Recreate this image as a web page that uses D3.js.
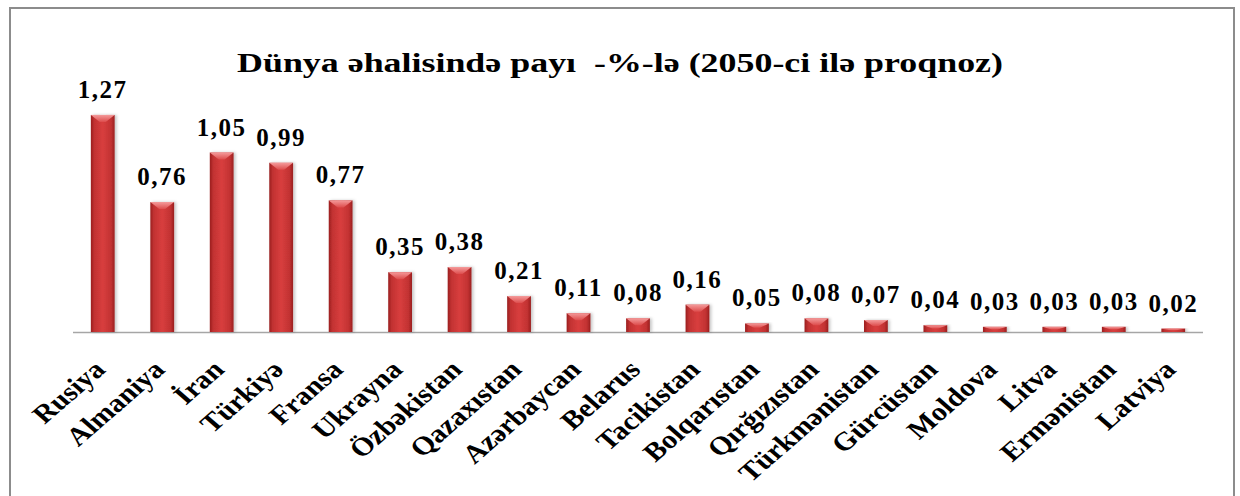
<!DOCTYPE html>
<html>
<head>
<meta charset="utf-8">
<script src="https://cdn.jsdelivr.net/npm/d3@7"></script>
<style>
  body { margin: 0; background: #fff; }
  svg { display: block; }
  text { font-family: "Liberation Serif", "Times New Roman", serif; font-weight: bold; fill: #000; }
</style>
</head>
<body>
<svg id="s" width="1240" height="496"></svg>
<script>
const title = 'Dünya əhalisində payı  -%-lə (2050-ci ilə proqnoz)';
const countries = ['Rusiya', 'Almaniya', 'İran', 'Türkiyə', 'Fransa', 'Ukrayna', 'Özbəkistan',
  'Qazaxıstan', 'Azərbaycan', 'Belarus', 'Tacikistan', 'Bolqarıstan', 'Qırğızıstan',
  'Türkmənistan', 'Gürcüstan', 'Moldova', 'Litva', 'Ermənistan', 'Latviya'];
const shares = [1.27, 0.76, 1.05, 0.99, 0.77, 0.35, 0.38, 0.21, 0.11, 0.08, 0.16, 0.05, 0.08,
  0.07, 0.04, 0.03, 0.03, 0.03, 0.02];

const svg = d3.select('#s');
const base = 332;
const stretch = 1.15;

const fmt = d3.formatLocale({ decimal: ',', thousands: ' ', grouping: [3], currency: ['', ''] }).format('.2f');

const x = d3.scaleBand()
  .domain(countries)
  .range([73, 1203])
  .paddingInner(0.6)
  .paddingOuter(0.3);
const y = d3.scaleLinear()
  .domain([0, 1.4])
  .range([base, base - 1.4 * 170.9]);

// gradients
const defs = svg.append('defs');
const g1 = defs.append('linearGradient').attr('id', 'barG').attr('x1', 0).attr('x2', 1).attr('y1', 0).attr('y2', 0);
[[0, '#9a1f1f'], [0.15, '#c23232'], [0.5, '#d83e3e'], [0.85, '#c23232'], [1, '#9a1f1f']]
  .forEach(([o, c]) => g1.append('stop').attr('offset', o).attr('stop-color', c));
const g2 = defs.append('linearGradient').attr('id', 'capG').attr('x1', 0).attr('x2', 0).attr('y1', 0).attr('y2', 1);
[[0, '#f49a9a'], [1, '#dd4c4c']]
  .forEach(([o, c]) => g2.append('stop').attr('offset', o).attr('stop-color', c));
const sh = defs.append('filter').attr('id', 'shadow').attr('x', '-30%').attr('y', '-10%').attr('width', '160%').attr('height', '120%');
sh.append('feDropShadow').attr('dx', 2).attr('dy', 0).attr('stdDeviation', 1.5).attr('flood-color', '#000').attr('flood-opacity', 0.22);

// frame
svg.append('rect')
  .attr('x', 10).attr('y', 8).attr('width', 1224).attr('height', 500)
  .attr('fill', '#fff').attr('stroke', '#8c8c8c').attr('stroke-width', 2);

// title
svg.append('text')
  .attr('x', 620).attr('y', 72)
  .attr('text-anchor', 'middle')
  .attr('textLength', 766)
  .attr('lengthAdjust', 'spacingAndGlyphs')
  .style('font-size', '27px')
  .style('white-space', 'pre')
  .text(title);

// axis
svg.append('line')
  .attr('x1', 73).attr('x2', 1203).attr('y1', base + 0.5).attr('y2', base + 0.5)
  .attr('stroke', '#a6a6a6').attr('stroke-width', 1.5);

const bars = svg.append('g').selectAll('g')
  .data(shares)
  .join('g')
  .attr('transform', (d, i) => `translate(${x(countries[i])},0)`);

const bw = x.bandwidth();
bars.append('rect')
  .attr('y', d => y(d))
  .attr('width', bw)
  .attr('height', d => base - y(d))
  .attr('fill', 'url(#barG)')
  .attr('filter', 'url(#shadow)');

// top bevel
bars.append('path')
  .attr('d', d => {
    const t = y(d);
    const c = Math.min(7, (base - t) * 0.5);
    return `M0,${t}H${bw}L${bw / 2 + 3},${t + c}H${bw / 2 - 3}Z`;
  })
  .attr('fill', 'url(#capG)');

bars.append('text')
  .attr('x', bw / 2)
  .attr('y', d => y(d) - 17)
  .attr('text-anchor', 'middle')
  .style('font-size', '25px')
  .style('letter-spacing', '1.5px')
  .text(d => fmt(d));

// category labels
svg.append('g').selectAll('text')
  .data(countries)
  .join('text')
  .attr('text-anchor', 'end')
  .attr('transform', d => `translate(${x(d) + bw / 2 + 4},${base + 39}) scale(${stretch},1) rotate(-45)`)
  .style('font-size', '26px')
  .text(d => d);
</script>
</body>
</html>
